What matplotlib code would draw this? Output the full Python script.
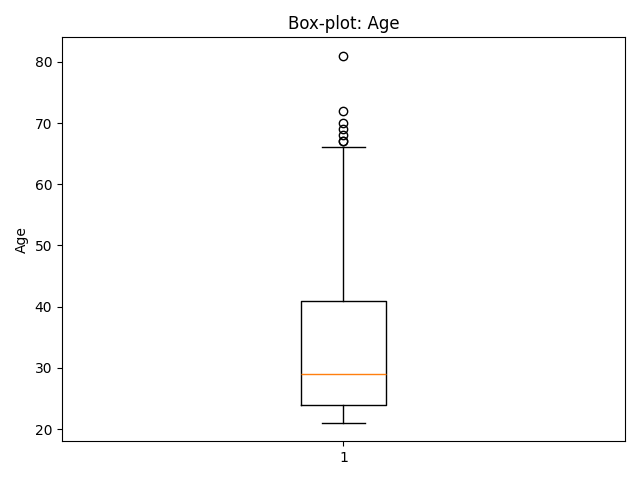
import matplotlib
matplotlib.use('Agg')
import matplotlib.pyplot as plt

# box statistics
whisker_low = 21
q1 = 24
median = 29
q3 = 41
whisker_high = 66
outliers = [67, 67, 68, 69, 70, 72, 81]

stats = [{
    'whislo': whisker_low, 'q1': q1, 'med': median, 'q3': q3,
    'whishi': whisker_high, 'fliers': outliers, 'label': '1',
}]

fig, ax = plt.subplots(figsize=(6.4, 4.8))
ax.bxp(stats)
ax.set_title('Box-plot: Age')
ax.set_ylabel('Age')
plt.tight_layout()
plt.savefig('out.png', dpi=100)
